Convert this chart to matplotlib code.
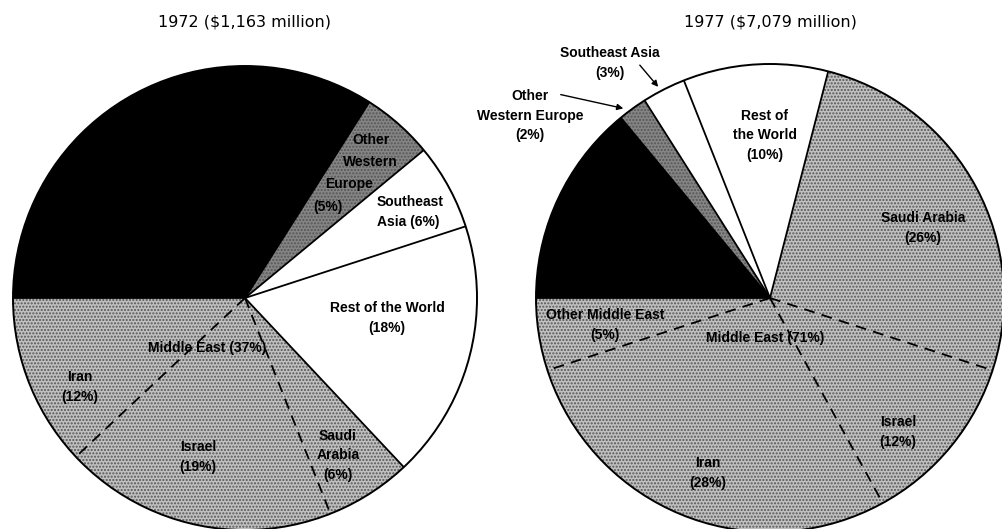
import matplotlib.pyplot as plt
import numpy as np
from matplotlib.patches import Circle

# Shares of arms exports by region (percent)
regions_1972 = ["Iran", "Israel", "Saudi Arabia", "Rest of the World",
                "Southeast Asia", "Other Western Europe", "NATO Europe"]
shares_1972 = [12, 19, 6, 18, 6, 5, 34]

regions_1977 = ["Other Middle East", "Iran", "Israel", "Saudi Arabia",
                "Rest of the World", "Southeast Asia", "Other Western Europe", "NATO Europe"]
shares_1977 = [5, 28, 12, 26, 10, 3, 2, 14]

middle_east = {"Iran", "Israel", "Saudi Arabia", "Other Middle East"}

titles = ["1972 ($1,163 million)", "1977 ($7,079 million)"]

W, H = 1003, 529
ME_GRAY = "#c0c0c0"
OWE_GRAY = "#858585"
label_font = ["Liberation Sans", "DejaVu Sans"]


def region_color(name):
    if name in middle_east:
        return ME_GRAY
    if name == "Other Western Europe":
        return OWE_GRAY
    if name == "NATO Europe":
        return "black"
    return "white"


def draw_pie(ax, names, shares, center, radius):
    wedges, _ = ax.pie(shares, colors=[region_color(n) for n in names],
                       startangle=180, counterclock=True, center=center,
                       radius=radius, wedgeprops=dict(linewidth=0))
    # stippled look for the shaded slices
    for w, n in zip(wedges, names):
        if n in middle_east or n == "Other Western Europe":
            w.set_hatch(".....")
            w.set_edgecolor("#555555")
            w.set_linewidth(0)
    # radial borders: dashed between two Middle East slices, solid elsewhere
    bounds = 180 + np.cumsum(shares) * 3.6
    for i, ang in enumerate(bounds):
        a, b = names[i], names[(i + 1) % len(names)]
        dashed = a in middle_east and b in middle_east
        t = np.radians(ang)
        line, = ax.plot([center[0], center[0] + radius * np.cos(t)],
                        [center[1], center[1] + radius * np.sin(t)],
                        color="black", lw=1.3, solid_capstyle="butt")
        if dashed:
            line.set_dashes((6, 4))
    ax.add_patch(Circle(center, radius, fill=False, ec="black", lw=1.4))


fig = plt.figure(figsize=(W / 100, H / 100), dpi=100)
ax = fig.add_axes([0, 0, 1, 1])

draw_pie(ax, regions_1972, shares_1972, (245, H - 298), 232)
draw_pie(ax, regions_1977, shares_1977, (770, H - 298), 234)

ax.set_xlim(0, W)
ax.set_ylim(0, H)
ax.set_aspect("equal")
ax.axis("off")

# titles
for x, t in zip([245, 770], titles):
    ax.text(x, H - 22, t, ha="center", va="center", fontsize=11.5, family="DejaVu Sans")


def lbl(x, y, s, ha="center", size=10):
    ax.text(x, H - y, s, ha=ha, va="center", fontsize=size, family=label_font,
            fontweight="bold", linespacing=1.5)


# 1972 labels
lbl(371, 140, "Other")
lbl(370, 162, "Western")
lbl(349, 184, "Europe")
lbl(328, 207, "(5%)")
lbl(377, 212, "Southeast\nAsia (6%)", ha="left")
lbl(387, 318, "Rest of the World\n(18%)")
lbl(207, 348, "Middle East (37%)")
lbl(80, 387, "Iran\n(12%)")
lbl(198, 457, "Israel\n(19%)")
lbl(338, 455, "Saudi\nArabia\n(6%)")

# 1977 labels
lbl(610, 63, "Southeast Asia\n(3%)")
lbl(530, 116, "Other\nWestern Europe\n(2%)")
lbl(765, 135, "Rest of\nthe World\n(10%)")
lbl(923, 228, "Saudi Arabia\n(26%)")
lbl(605, 325, "Other Middle East\n(5%)")
lbl(765, 338, "Middle East (71%)")
lbl(898, 432, "Israel\n(12%)")
lbl(708, 473, "Iran\n(28%)")

arrow = dict(arrowstyle="-|>", color="black", lw=1.0, mutation_scale=9)
ax.annotate("", xy=(660, H - 89), xytext=(638, H - 63), arrowprops=arrow)
ax.annotate("", xy=(626, H - 109), xytext=(558, H - 94), arrowprops=arrow)

fig.savefig("out.png", dpi=100)
